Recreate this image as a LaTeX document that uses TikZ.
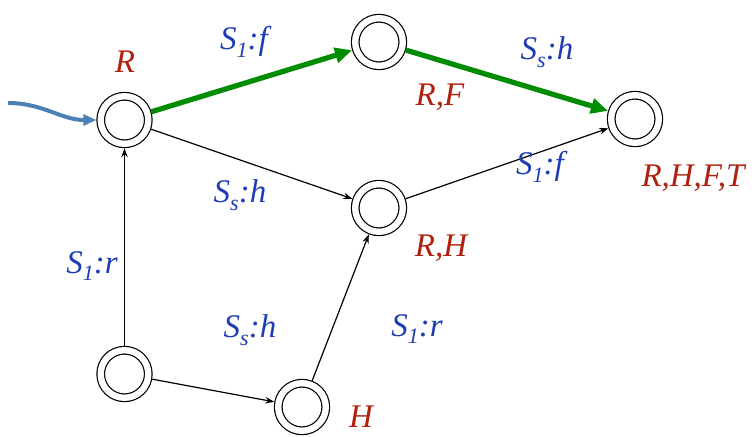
\documentclass[tikz,border=0pt]{standalone}
\usepackage{fontspec}
\setmainfont{Liberation Serif}
\usetikzlibrary{arrows.meta,positioning}
\definecolor{setred}{HTML}{B0200F}
\definecolor{actblue}{HTML}{1E3CB4}
\definecolor{pathgreen}{HTML}{008C00}
\definecolor{entryblue}{HTML}{4A80B4}
\newcommand{\lowsub}[1]{\raisebox{-0.5ex}{\fontsize{11}{13}\selectfont #1}}

\begin{document}
\begin{tikzpicture}[x=0.5pt,y=-0.5pt,
  state/.style={circle, draw, line width=0.6pt, double, double distance=3.2pt,
    minimum size=23.8pt, inner sep=0pt, outer sep=2.2pt},
  setlabel/.style={text=setred, font=\fontsize{16.5}{19}\selectfont\itshape},
  actlabel/.style={text=actblue, font=\fontsize{16.5}{19}\selectfont\itshape},
  move/.style={line width=0.6pt, -{Stealth[length=4.5pt,width=3.2pt]}},
  hot/.style={pathgreen, line width=2.6pt, -{Triangle[length=8.5pt,width=7.5pt]}}]
  \useasboundingbox (0,0) rectangle (752,436);

  % states
  \node[state] (R) at (124.5,120) {};
  \node[state] (RF) at (379,42) {};
  \node[state] (RHFT) at (635,119) {};
  \node[state] (RH) at (379,208) {};
  \node[state] (init) at (124.5,374) {};
  \node[state] (H) at (302,407) {};

  % state sets
  \node[setlabel] (lR) at (125,62) {R};
  \node[setlabel] (lRF) at (440,97) {R,F};
  \node[setlabel] (lRHFT) at (693,178) {R,H,F,T};
  \node[setlabel] (lRH) at (441,248) {R,H};
  \node[setlabel] (lH) at (361,417) {H};

  % entry
  \coordinate (entry) at (8,103);
  \draw[entryblue, line width=2pt, -{Triangle[length=6.5pt,width=5.5pt]}]
    (entry) to[out=0,in=180] (R.west);

  % moves
  \draw[hot] (R) -- (RF);
  \draw[hot] (RF) -- (RHFT);
  \draw[move] (R) -- (RH);
  \draw[move] (RH) -- (RHFT);
  \draw[move] (init) -- (R);
  \draw[move] (init) -- (H);
  \draw[move] (H) -- (RH);

  % actions
  \node[actlabel] (a1) at (244,42) {S\lowsub{1}:f};
  \node[actlabel] (a2) at (547,52) {S\lowsub{s}:h};
  \node[actlabel] (a3) at (240,195) {S\lowsub{s}:h};
  \node[actlabel] (a4) at (540,167) {S\lowsub{1}:f};
  \node[actlabel] (a5) at (92,266) {S\lowsub{1}:r};
  \node[actlabel] (a6) at (250,330) {S\lowsub{s}:h};
  \node[actlabel] (a7) at (417,329) {S\lowsub{1}:r};
\end{tikzpicture}
\end{document}
